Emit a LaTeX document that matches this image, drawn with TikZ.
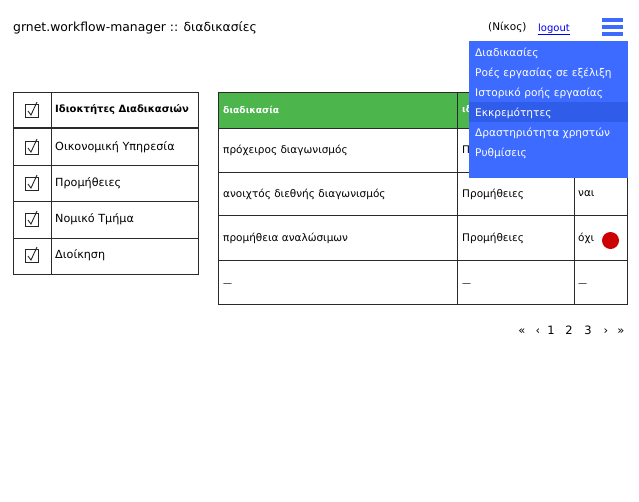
\documentclass[tikz,border=0pt]{standalone}
\usepackage{fontspec}
\setmainfont{DejaVu Sans}
\usetikzlibrary{calc}
\definecolor{gridline}{HTML}{2A2A2A}
\definecolor{hdrgreen}{HTML}{4CB64C}
\definecolor{menublue}{HTML}{3D6BFF}
\definecolor{menuhl}{HTML}{2F5CE8}
\definecolor{linkblue}{HTML}{0000EE}
\definecolor{dotred}{HTML}{CC0000}
\tikzset{
  x=1pt,y=-1pt,
  grid/.style={draw=gridline,line width=1pt},
  celltext/.style={anchor=west,inner sep=0pt,font=\fontsize{10.5}{12}\selectfont,text=black},
  lefttext/.style={anchor=west,inner sep=0pt,font=\fontsize{11.2}{13}\selectfont,text=black},
  menuitem/.style={anchor=west,inner sep=0pt,font=\fontsize{10.6}{12}\selectfont,text=white},
  pagetext/.style={anchor=base,inner sep=0pt,font=\fontsize{11.5}{13}\selectfont},
  cbox/.style={draw=black!85,line width=0.9pt,minimum size=13pt,inner sep=0pt},
}
\begin{document}
\begin{tikzpicture}
\useasboundingbox[fill=white] (0,0) rectangle (639,501);
% title
\node[anchor=west,inner sep=0pt,font=\fontsize{12.4}{14}\selectfont] (title) at (13,28) {grnet.workflow-manager :: διαδικασίες};
\node[anchor=west,inner sep=0pt,font=\fontsize{10.5}{12}\selectfont] (user) at (488,27) {(Νίκος)};
\node[anchor=base west,inner sep=0pt,font=\fontsize{10}{12}\selectfont,text=linkblue] (logout) at (538,31) {\underline{logout}};
% hamburger
\fill[menublue] (602,18) rectangle (623,22);
\fill[menublue] (602,25) rectangle (623,29);
\fill[menublue] (602,32) rectangle (623,36);
% left table
\draw[grid] (13,92) rectangle (198,274);
\draw[grid,line width=1.8pt] (13,128) -- (198,128);
\foreach \yy in {165,201,238} \draw[grid] (13,\yy) -- (198,\yy);
\draw[grid] (51,92) -- (51,274);
\foreach \yy/\nm in {110/c0,147/c1,183/c2,219/c3,255/c4} {
  \node[cbox] (\nm) at (32,\yy+1) {};
  \draw[black!85,line width=0.9pt] ($(\nm)+(-4,0)$) -- ($(\nm)+(-1,4)$) -- ($(\nm)+(5,-9)$);
}
\node[lefttext,font=\bfseries\fontsize{10}{12}\selectfont] (oh) at (55,110) {Ιδιοκτήτες Διαδικασιών};
\node[lefttext] (o1) at (55,147) {Οικονομική Υπηρεσία};
\node[lefttext] (o2) at (55,183) {Προμήθειες};
\node[lefttext] (o3) at (55,219) {Νομικό Τμήμα};
\node[lefttext] (o4) at (55,255) {Διοίκηση};
% main table
\fill[hdrgreen] (218,92) rectangle (627,128);
\draw[grid] (218,92) rectangle (627,304);
\foreach \yy in {128,172,215,260} \draw[grid] (218,\yy) -- (627,\yy);
\draw[grid] (457,92) -- (457,304);
\draw[grid] (574,128) -- (574,304);
\node[celltext,text=white,font=\bfseries\fontsize{9.2}{11}\selectfont] (h1) at (223,110) {διαδικασία};
\node[celltext,text=white,font=\bfseries\fontsize{9.2}{11}\selectfont] (h2) at (462,110) {ιδιοκτήτης};
\node[celltext] (r1a) at (223,150) {πρόχειρος διαγωνισμός};
\node[celltext] (r1b) at (462,150) {Προμήθειες};
\node[celltext] (r2a) at (223,194) {ανοιχτός διεθνής διαγωνισμός};
\node[celltext] (r2b) at (462,194) {Προμήθειες};
\node[celltext] (r2c) at (578,194) {ναι};
\node[celltext] (r3a) at (223,238) {προμήθεια αναλώσιμων};
\node[celltext] (r3b) at (462,238) {Προμήθειες};
\node[celltext] (r3c) at (578,238) {όχι};
\fill[dotred] (610.5,240.5) circle (8.5);
\node[celltext,font=\fontsize{9}{11}\selectfont] (r4a) at (223,285) {—};
\node[celltext,font=\fontsize{9}{11}\selectfont] (r4b) at (462,285) {—};
\node[celltext,font=\fontsize{9}{11}\selectfont] (r4c) at (578,285) {—};
% pagination
\node[pagetext] (pfirst) at (522,334) {«};
\node[pagetext] (pprev) at (538,334) {‹};
\node[pagetext] (p1) at (551,334) {1};
\node[pagetext] (p2) at (569,334) {2};
\node[pagetext] (p3) at (588,334) {3};
\node[pagetext] (pnext) at (606,334) {›};
\node[pagetext] (plast) at (621,334) {»};
% dropdown menu
\fill[menublue] (469,41) rectangle (628,178);
\fill[menuhl] (469,102) rectangle (628,122);
\node[menuitem] (m1) at (475,53) {Διαδικασίες};
\node[menuitem] (m2) at (475,73) {Ροές εργασίας σε εξέλιξη};
\node[menuitem] (m3) at (475,93) {Ιστορικό ροής εργασίας};
\node[menuitem] (m4) at (475,113) {Εκκρεμότητες};
\node[menuitem] (m5) at (475,133) {Δραστηριότητα χρηστών};
\node[menuitem] (m6) at (475,153) {Ρυθμίσεις};
\end{tikzpicture}
\end{document}
